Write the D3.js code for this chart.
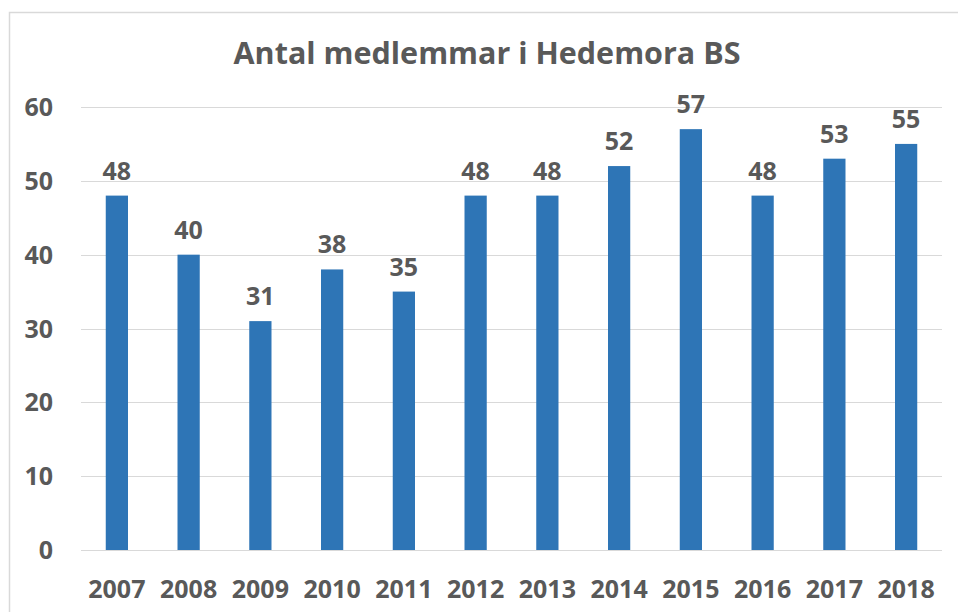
<!DOCTYPE html>
<html lang="sv">
<head>
  <meta charset="UTF-8">
  <title>Antal medlemmar i Hedemora BS</title>
  <script src="https://d3js.org/d3.v7.min.js"></script>
  <style>
    body { margin: 0; overflow: hidden; background: #fff; }
    svg { display: block; }
    text { font-family: "Open Sans", "Liberation Sans", sans-serif; font-weight: bold; fill: #595959; }
  </style>
</head>
<body>
  <svg id="chart"></svg>
  <script>
    // data
    const years = ["2007", "2008", "2009", "2010", "2011", "2012", "2013", "2014", "2015", "2016", "2017", "2018"];
    const members = [48, 40, 31, 38, 35, 48, 48, 52, 57, 48, 53, 55];
    const yTicks = [0, 10, 20, 30, 40, 50, 60];

    const width = 958, height = 612;
    const plot = { left: 81, right: 942, top: 107, bottom: 550 };

    const svg = d3.select("#chart").attr("width", width).attr("height", height);

    // chart border (cropped at right/bottom)
    svg.append("rect")
      .attr("x", 9.5).attr("y", 12.5)
      .attr("width", 1000).attr("height", 700)
      .attr("fill", "none").attr("stroke", "#d9d9d9").attr("stroke-width", 1.5);

    const x = d3.scaleBand().domain(years).range([plot.left, plot.right]).padding(0);
    const y = d3.scaleLinear().domain([0, 60]).range([plot.bottom, plot.top]);
    const barW = x.bandwidth() * 0.31;

    // gridlines
    svg.append("g").selectAll("line")
      .data(yTicks)
      .join("line")
      .attr("x1", plot.left).attr("x2", plot.right)
      .attr("y1", d => Math.round(y(d)) + 0.5).attr("y2", d => Math.round(y(d)) + 0.5)
      .attr("stroke", "#d9d9d9").attr("stroke-width", 1.2);

    // y tick labels
    svg.append("g").selectAll("text")
      .data(yTicks)
      .join("text")
      .attr("x", 53).attr("y", d => y(d) + 9)
      .attr("text-anchor", "end")
      .attr("font-size", 25)
      .text(d => d);

    // bars
    svg.append("g").selectAll("rect")
      .data(members)
      .join("rect")
      .attr("x", (d, i) => x(years[i]) + x.bandwidth() / 2 - barW / 2)
      .attr("width", barW)
      .attr("y", d => y(d))
      .attr("height", d => y(0) - y(d))
      .attr("fill", "#2E75B6");

    // value labels
    svg.append("g").selectAll("text")
      .data(members)
      .join("text")
      .attr("x", (d, i) => x(years[i]) + x.bandwidth() / 2)
      .attr("y", d => y(d) - 16)
      .attr("text-anchor", "middle")
      .attr("font-size", 25)
      .text(d => d);

    // x labels
    svg.append("g").selectAll("text")
      .data(years)
      .join("text")
      .attr("x", d => x(d) + x.bandwidth() / 2)
      .attr("y", 598)
      .attr("text-anchor", "middle")
      .attr("font-size", 25)
      .text(d => d);

    // title
    svg.append("text")
      .attr("x", 487).attr("y", 64)
      .attr("text-anchor", "middle")
      .attr("font-size", 30.5)
      .text("Antal medlemmar i Hedemora BS");
  </script>
</body>
</html>
